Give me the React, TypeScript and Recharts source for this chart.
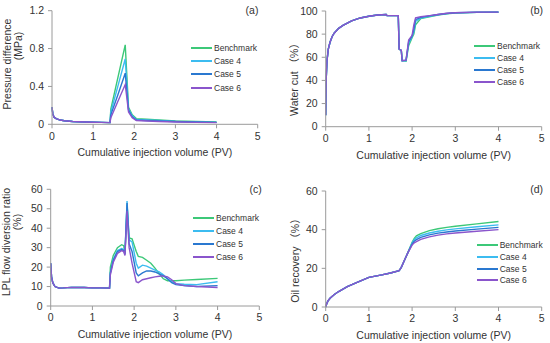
import React from 'react';
import { LineChart, Line, XAxis, YAxis } from 'recharts';

const FONT = '"Liberation Sans", Arial, "Noto Sans CJK SC", sans-serif';
const TEXT = '#333';
const AXIS = '#9a9a9a';

const SERIES = [
  { key: 'bench', name: 'Benchmark', color: '#3cc878' },
  { key: 'c4', name: 'Case 4', color: '#3cbcf0' },
  { key: 'c5', name: 'Case 5', color: '#2a78d0' },
  { key: 'c6', name: 'Case 6', color: '#8a55cc' },
];

const X_TICKS = [0, 1, 2, 3, 4, 5];
const X_TITLE = 'Cumulative injection volume (PV)';

// (a) pressure difference, MPa
const A_X = [0, 0.02, 0.05, 0.1, 0.2, 0.3, 0.5, 0.8, 1.0, 1.2, 1.41, 1.43, 1.6, 1.78, 1.86, 1.95, 2.05, 2.3, 2.6, 3.0, 3.5, 4.0];
const A_BENCH = [0.18, 0.11, 0.075, 0.06, 0.045, 0.037, 0.03, 0.025, 0.022, 0.02, 0.018, 0.16, 0.49, 0.84, 0.18, 0.1, 0.06, 0.055, 0.045, 0.035, 0.03, 0.025];
const A_C4 = [0.18, 0.11, 0.075, 0.06, 0.045, 0.037, 0.03, 0.025, 0.022, 0.02, 0.018, 0.13, 0.4, 0.69, 0.16, 0.09, 0.05, 0.045, 0.04, 0.03, 0.025, 0.02];
const A_C5 = [0.18, 0.11, 0.075, 0.06, 0.045, 0.037, 0.03, 0.025, 0.022, 0.02, 0.018, 0.1, 0.31, 0.54, 0.15, 0.08, 0.045, 0.04, 0.035, 0.03, 0.025, 0.02];
const A_C6 = [0.18, 0.11, 0.075, 0.06, 0.045, 0.037, 0.03, 0.025, 0.022, 0.02, 0.018, 0.07, 0.24, 0.42, 0.13, 0.07, 0.04, 0.035, 0.03, 0.025, 0.02, 0.018];
const A_TICKS = [0, 0.4, 0.8, 1.2];

// (b) water cut, %
const B_X = [0, 0.01, 0.03, 0.06, 0.1, 0.15, 0.2, 0.3, 0.4, 0.6, 0.8, 1.0, 1.2, 1.4, 1.42, 1.68, 1.7, 1.75, 1.77, 1.86, 1.92, 2.0, 2.04, 2.08, 2.2, 2.4, 2.6, 2.8, 3.0, 3.5, 4.0];
const B_BENCH = [10, 40, 57, 67, 73, 78, 81, 85, 87.5, 91.5, 94, 95.5, 96.5, 97, 96, 96, 67, 66, 57, 56.5, 70, 77, 80, 88, 93.5, 95, 96.5, 97.5, 98.3, 98.8, 99];
const B_C4 = [10, 40, 57, 67, 73, 78, 81, 85, 87.5, 91.5, 94, 95.5, 96.5, 97, 96, 96, 67, 66, 57, 57, 72, 78, 82, 91, 94, 95.5, 96.8, 97.7, 98.4, 98.8, 99];
const B_C5 = [10, 40, 57, 67, 73, 78, 81, 85, 87.5, 91.5, 94, 95.5, 96.5, 97, 96, 96, 67, 66, 57, 57.5, 73.5, 78.5, 84, 92.5, 94.5, 95.8, 97, 97.8, 98.5, 98.9, 99];
const B_C6 = [10, 40, 57, 67, 73, 78, 81, 85, 87.5, 91.5, 94, 95.5, 96.5, 97, 96, 96, 67, 66, 57, 57.5, 75, 79, 88, 94, 95, 96, 97, 98, 98.5, 99, 99];
const B_TICKS = [0, 20, 40, 60, 80, 100];

// (c) LPL flow diversion ratio, %
const C_X = [0, 0.02, 0.05, 0.1, 0.2, 0.3, 0.5, 0.8, 1.0, 1.2, 1.41, 1.43, 1.5, 1.6, 1.7, 1.75, 1.78, 1.83, 1.88, 1.95, 2.05, 2.1, 2.2, 2.3, 2.4, 2.5, 2.6, 2.7, 2.8, 2.9, 3.0, 3.2, 3.5, 4.0];
const C_BENCH = [22, 15, 12, 10, 9.2, 9.3, 9.6, 9.5, 9.3, 9.3, 9.2, 20, 26, 30, 31.5, 31, 27, 52, 35, 34.5, 28, 25.5, 25, 23.5, 22, 19.5, 16.5, 14, 13, 13, 13, 13.3, 13.6, 14.2];
const C_C4 = [22, 15, 12, 10, 9.2, 9.3, 9.6, 9.5, 9.3, 9.3, 9.2, 17, 24, 28.5, 29.5, 29, 27, 54, 34, 33, 22, 19.5, 21, 20.5, 19.5, 18.5, 17.5, 16, 14, 12.5, 11.5, 11.2, 11, 12.5];
const C_C5 = [22, 15, 12, 10, 9.2, 9.3, 9.6, 9.5, 9.3, 9.3, 9.2, 17, 23.5, 28, 29, 28.5, 26.5, 53, 32, 28, 17, 15.5, 17, 18, 18, 17.5, 16.5, 15.5, 14, 12, 11, 10.5, 10, 10.5];
const C_C6 = [22, 15, 12, 10, 9.2, 9.3, 9.6, 9.5, 9.3, 9.3, 9.2, 16, 22.5, 27, 28.5, 28, 26, 49, 30, 22, 12.5, 12, 13.5, 14, 14.5, 15, 15.3, 15.5, 15, 13.5, 11.5, 10.5, 10, 9.5];
const C_TICKS = [0, 10, 20, 30, 40, 50, 60];

// (d) oil recovery, %
const D_X = [0, 0.02, 0.05, 0.1, 0.2, 0.3, 0.5, 0.7, 1.0, 1.3, 1.5, 1.7, 1.75, 1.8, 1.9, 2.0, 2.05, 2.1, 2.2, 2.4, 2.6, 2.8, 3.0, 3.5, 4.0];
const D_BENCH = [0, 1.5, 3, 4.5, 6.5, 8, 10.5, 12.5, 15.3, 16.6, 17.6, 18.8, 20.5, 23, 28, 33.5, 35.5, 36.8, 38, 39.5, 40.5, 41.2, 41.8, 43, 44.2];
const D_C4 = [0, 1.5, 3, 4.5, 6.5, 8, 10.5, 12.5, 15.3, 16.6, 17.6, 18.8, 20.5, 23, 28, 33, 34.8, 35.8, 37, 38.3, 39.2, 39.9, 40.4, 41.5, 42.5];
const D_C5 = [0, 1.5, 3, 4.5, 6.5, 8, 10.5, 12.5, 15.3, 16.6, 17.6, 18.8, 20.5, 23, 28, 32.5, 34, 34.8, 36, 37.3, 38.2, 38.8, 39.3, 40.3, 41.2];
const D_C6 = [0, 1.5, 3, 4.5, 6.5, 8, 10.5, 12.5, 15.3, 16.6, 17.6, 18.8, 20.5, 23, 28, 32, 33.2, 33.8, 35, 36.3, 37.2, 37.8, 38.3, 39.2, 40];
const D_TICKS = [0, 20, 40, 60];

const rows = (xs: number[], b: number[], c4: number[], c5: number[], c6: number[]) =>
  xs.map((x, i) => ({ x, bench: b[i], c4: c4[i], c5: c5[i], c6: c6[i] }));

type Panel = {
  tag: string;
  left: number; top: number; h: number;
  plot: { l: number; r: number; t: number; b: number };
  data: any[];
  yTicks: number[];
  yTitle: { text: string; x: number; y: number }[];
  legend: { x: number; y: number; gap: number };
  tagPos: { x: number; y: number };
};

const PANELS: Panel[] = [
  {
    tag: '(a)', left: 0, top: 0, h: 172,
    plot: { l: 52, r: 257.7, t: 10.7, b: 124.3 },
    data: rows(A_X, A_BENCH, A_C4, A_C5, A_C6), yTicks: A_TICKS,
    yTitle: [{ text: 'Pressure difference', x: 6.5, y: 64 }, { text: '(MPa)', x: 17.5, y: 46 }],
    legend: { x: 191, y: 47.7, gap: 13.3 }, tagPos: { x: 252, y: 10 },
  },
  {
    tag: '(b)', left: 275, top: 0, h: 172,
    plot: { l: 50.7, r: 266.7, t: 11, b: 126.7 },
    data: rows(B_X, B_BENCH, B_C4, B_C5, B_C6), yTicks: B_TICKS,
    yTitle: [{ text: 'Water cut （%）', x: 18.5, y: 77 }],
    legend: { x: 199, y: 46, gap: 12.1 }, tagPos: { x: 261.7, y: 10 },
  },
  {
    tag: '(c)', left: 0, top: 172, h: 171,
    plot: { l: 50.7, r: 259.3, t: 17.3, b: 134 },
    data: rows(C_X, C_BENCH, C_C4, C_C5, C_C6), yTicks: C_TICKS,
    yTitle: [{ text: 'LPL flow diversion ratio', x: 5.5, y: 70 }, { text: '(%)', x: 17, y: 50 }],
    legend: { x: 193, y: 45.7, gap: 13 }, tagPos: { x: 255.7, y: 17 },
  },
  {
    tag: '(d)', left: 275, top: 172, h: 171,
    plot: { l: 50.7, r: 266.7, t: 19, b: 135 },
    data: rows(D_X, D_BENCH, D_C4, D_C5, D_C6), yTicks: D_TICKS,
    yTitle: [{ text: 'Oil recovery （%）', x: 20, y: 86 }],
    legend: { x: 201.7, y: 73.3, gap: 11.7 }, tagPos: { x: 261.7, y: 17 },
  },
];

const Y_W = 30;
const X_H = 25;

function YTitle({ lines }: { lines: { text: string; x: number; y: number }[] }) {
  return (
    <g>
      {lines.map((l) => (
        <text key={l.text} x={l.x} y={l.y} transform={`rotate(-90 ${l.x} ${l.y})`} textAnchor="middle"
          dominantBaseline="central" fontSize={10.5} fill={TEXT} fontFamily={FONT}>
          {l.text}
        </text>
      ))}
    </g>
  );
}

function XTitle({ cx, cy }: { cx: number; cy: number }) {
  return (
    <text x={cx} y={cy} textAnchor="middle" dominantBaseline="central" fontSize={10.5} fill={TEXT} fontFamily={FONT}>
      {X_TITLE}
    </text>
  );
}

function ChartPanel({ p }: { p: Panel }) {
  const margin = {
    top: p.plot.t,
    right: 275 - p.plot.r,
    bottom: p.h - p.plot.b - X_H,
    left: p.plot.l - Y_W,
  };
  const yMax = p.yTicks[p.yTicks.length - 1];
  return (
    <div style={{ position: 'absolute', left: p.left, top: p.top, width: 275, height: p.h }}>
      <LineChart width={275} height={p.h} data={p.data} margin={margin}>
        <XAxis type="number" dataKey="x" domain={[0, 5]} ticks={X_TICKS} height={X_H}
          stroke={AXIS} tickSize={4} tickMargin={4}
          tick={{ fontSize: 10.5, fill: TEXT, fontFamily: FONT }}
          label={<XTitle cx={(p.plot.l + p.plot.r) / 2} cy={p.plot.b + 28} />} />
        <YAxis type="number" domain={[0, yMax]} ticks={p.yTicks} width={Y_W} interval={0}
          stroke={AXIS} tickSize={4} tickMargin={4}
          tick={{ fontSize: 10.5, fill: TEXT, fontFamily: FONT }}
          label={<YTitle lines={p.yTitle} />} />
        {SERIES.map((s) => (
          <Line key={s.key} type="linear" dataKey={s.key} name={s.name} stroke={s.color}
            strokeWidth={1.4} dot={false} activeDot={false} isAnimationActive={false} />
        ))}
      </LineChart>
      {SERIES.map((s, i) => (
        <div key={s.key} style={{ position: 'absolute', left: p.legend.x, top: p.legend.y + i * p.legend.gap - 6,
          height: 12, display: 'flex', alignItems: 'center', whiteSpace: 'nowrap' }}>
          <span style={{ display: 'inline-block', width: 21, height: 2, background: s.color, marginRight: 2 }} />
          <span style={{ fontSize: 8.5, color: TEXT, fontFamily: FONT }}>{s.name}</span>
        </div>
      ))}
      <div style={{ position: 'absolute', left: p.tagPos.x - 15, top: p.tagPos.y - 7, width: 30, height: 14,
        textAlign: 'center', lineHeight: '14px', fontSize: 10.5, color: TEXT, fontFamily: FONT }}>
        {p.tag}
      </div>
    </div>
  );
}

export default function App() {
  return (
    <div style={{ position: 'absolute', left: 0, top: 0, width: 550, height: 343, background: '#fff', fontFamily: FONT }}>
      {PANELS.map((p) => (
        <ChartPanel key={p.tag} p={p} />
      ))}
    </div>
  );
}
